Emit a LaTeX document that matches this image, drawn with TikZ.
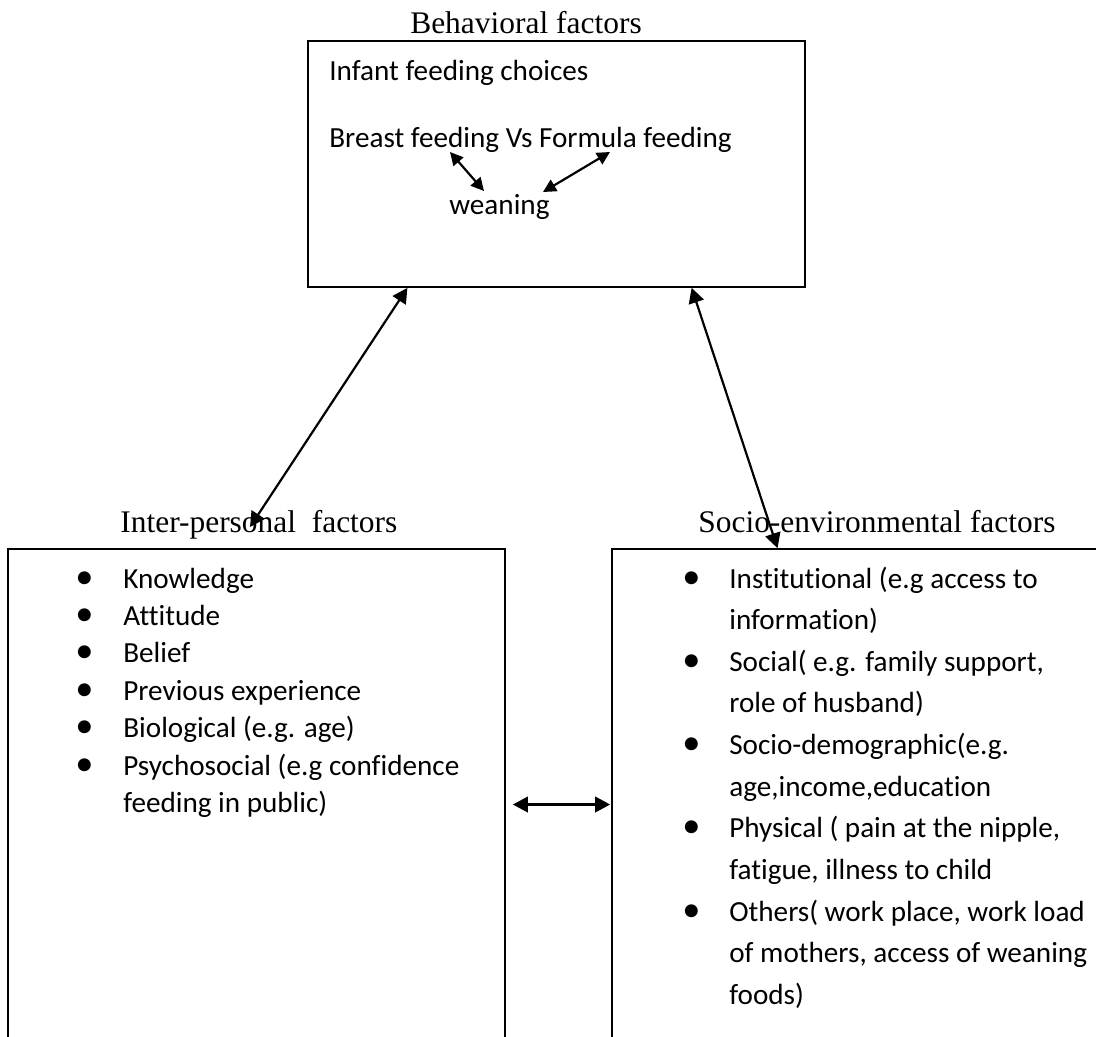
\documentclass[tikz,border=0pt]{standalone}
\usepackage{fontspec}
\usepackage{array}
\setmainfont{Carlito}[Ligatures=NoCommon]
\newfontfamily\headfont{Liberation Serif}
\usetikzlibrary{arrows.meta, positioning, calc}
\newcommand{\bul}{\scalebox{1.25}{\textbullet}}

\begin{document}
\begin{tikzpicture}[
    x=0.02cm, y=-0.02cm,
    box/.style={rectangle, draw, line width=1pt},
    heading/.style={inner sep=0pt, font=\headfont\fontsize{17.9}{21}\selectfont},
    bodytext/.style={inner sep=0pt, font=\fontsize{16.6}{20}\selectfont},
    dblarrow/.style={{Triangle[length=3mm, width=3.1mm]}-{Triangle[length=3mm, width=3.1mm]}, line width=1.25pt},
    smallarrow/.style={{Triangle[length=2.6mm, width=2.6mm]}-{Triangle[length=2.6mm, width=2.6mm]}, line width=1.25pt}
]
\useasboundingbox (0,0) rectangle (1096,1036);
\clip (0,0) rectangle (1096,1036);

% Behavioral box
\node[box, minimum width=9.94cm, minimum height=4.92cm] (behav) at (556.5,164) {};
\node[heading, anchor=base] (behavlabel) at (526,33) {Behavioral factors};
\node[bodytext, anchor=base west] (infant) at (329,80) {Infant feeding choices};
\node[bodytext, anchor=base west] (choice) at (329,147) {Breast feeding Vs Formula feeding};
\node[bodytext, anchor=base west] (weaning) at (449,214) {weaning};

% Inter-personal box
\node[box, minimum width=9.94cm, minimum height=10.22cm] (inter) at (256.5,804.5) {};
\node[heading, anchor=base west] (interlabel) at (120,532) {Inter-personal\ \ factors};
\node[bodytext, anchor=base west] (interlist) at (75,588) {%
    \fontsize{16.6}{21.3}\selectfont
    \begin{tabular}[t]{@{}p{9.6mm}@{}l@{}}
    \bul & Knowledge\\
    \bul & Attitude\\
    \bul & Belief\\
    \bul & Previous experience\\
    \bul & Biological (e.g. age)\\
    \bul & Psychosocial (e.g confidence\\
         & feeding in public)
    \end{tabular}};

% Socio-environmental box
\node[box, minimum width=9.96cm, minimum height=10.22cm] (socio) at (861,804.5) {};
\node[heading, anchor=base west] (sociolabel) at (698,532) {Socio-environmental factors};
\node[bodytext, anchor=base west] (sociolist) at (682,588) {%
    \fontsize{16.6}{23.7}\selectfont
    \begin{tabular}[t]{@{}p{9.4mm}@{}l@{}}
    \bul & Institutional (e.g access to\\
         & information)\\
    \bul & Social( e.g. family support,\\
         & role of husband)\\
    \bul & Socio-demographic(e.g.\\
         & age,income,education\\
    \bul & Physical ( pain at the nipple,\\
         & fatigue, illness to child\\
    \bul & Others( work place, work load\\
         & of mothers, access of weaning\\
         & foods)
    \end{tabular}};

% Arrows inside the behavioral box
\draw[smallarrow] ($(choice.base west)+(121,5)$) -- ($(weaning.base west)+(35,-23)$);
\draw[smallarrow] ($(choice.base west)+(281,5)$) -- ($(weaning.base west)+(94,-22)$);

% Connecting arrows
\draw[dblarrow] ($(behav.south west)!0.201!(behav.south east)$) -- ($(interlabel.base west)+(130,-5)$);
\draw[dblarrow] ($(behav.south west)!0.771!(behav.south east)$) -- ($(socio.north west)!0.333!(socio.north east)$);
\draw[dblarrow] ($(inter.east)+(7,0)$) -- ($(socio.west)+(-1,0)$);

\end{tikzpicture}
\end{document}
